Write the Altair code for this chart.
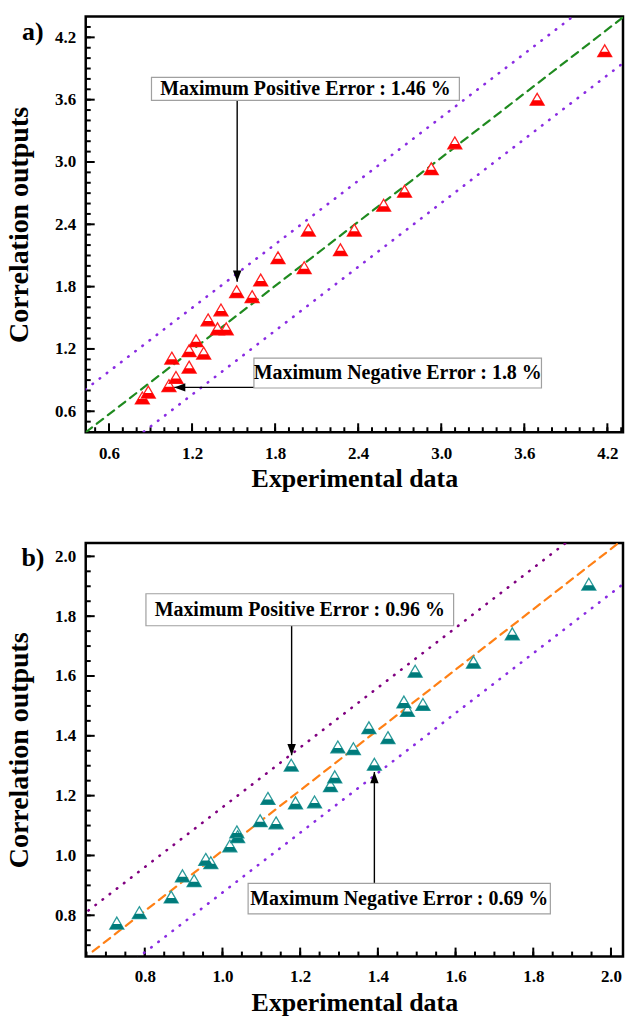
import altair as alt
import pandas as pd

FONT = "Liberation Serif"

# ---------------- Panel a data ----------------
a_exp = [0.841, 0.884, 1.033, 1.054, 1.084, 1.179, 1.179, 1.229, 1.284, 1.316, 1.384, 1.409, 1.447, 1.522,
         1.634, 1.696, 1.821, 2.010, 2.040, 2.272, 2.372, 2.584, 2.735, 2.928, 3.098, 3.693, 4.181]
a_cor = [0.728, 0.785, 0.847, 1.112, 0.926, 1.183, 1.025, 1.279, 1.160, 1.480, 1.394, 1.576, 1.394, 1.752,
         1.704, 1.864, 2.078, 1.982, 2.344, 2.155, 2.344, 2.584, 2.718, 2.935, 3.184, 3.604, 4.071]

# ---------------- Panel b data ----------------
b_exp = [0.728, 0.786, 0.868, 0.897, 0.927, 0.957, 0.970, 1.019, 1.037, 1.039, 1.097, 1.138, 1.117, 1.188,
         1.237, 1.177, 1.278, 1.289, 1.297, 1.337, 1.391, 1.377, 1.426, 1.467, 1.476, 1.516, 1.496, 1.646,
         1.746, 1.943]
b_cor = [0.774, 0.809, 0.861, 0.932, 0.916, 0.987, 0.976, 1.032, 1.079, 1.063, 1.116, 1.109, 1.191, 1.176,
         1.179, 1.302, 1.233, 1.263, 1.363, 1.357, 1.305, 1.427, 1.394, 1.513, 1.485, 1.505, 1.616, 1.646,
         1.741, 1.907]

# Reference / error-band lines (endpoints)
a_diag_x, a_diag_y = [0.432, 4.32], [0.398, 4.40]
a_up_x, a_up_y = [0.43, 4.0], [0.81, 4.45]
a_lo_x, a_lo_y = [0.80, 4.40], [0.35, 4.04]
b_diag_x, b_diag_y = [0.666, 2.02], [0.679, 2.045]
b_up_x, b_up_y = [0.60, 1.90], [0.761, 2.061]
b_lo_x, b_lo_y = [0.78, 2.10], [0.656, 1.976]

# Axis ticks
a_major = [0.6, 1.2, 1.8, 2.4, 3.0, 3.6, 4.2]
a_minor_x = [round(0.5 + 0.1 * i, 1) for i in range(39)]
a_minor_y = [round(0.4 + 0.1 * i, 1) for i in range(41)]
b_major = [0.8, 1.0, 1.2, 1.4, 1.6, 1.8, 2.0]
b_minor_x = [round(0.65 + 0.05 * i, 2) for i in range(28)]
b_minor_y = [round(0.70 + 0.05 * i, 2) for i in range(28)]

# Annotations: box edges, text, arrow
a_box_x1 = [0.907, 1.647]
a_box_x2 = [3.131, 3.724]
a_box_y1 = [3.594, 0.824]
a_box_y2 = [3.815, 1.112]
a_text = ["Maximum Positive Error : 1.46 %", "Maximum Negative Error : 1.8 %"]
a_arr_x1 = [1.526, 1.647]
a_arr_y1 = [3.594, 0.83]
a_arr_x2 = [1.526, 1.071]
a_arr_y2 = [1.848, 0.83]
a_arr_ang = [0, 90]

b_box_x1 = [0.803, 1.066]
b_box_x2 = [1.595, 1.844]
b_box_y1 = [1.768, 0.805]
b_box_y2 = [1.875, 0.907]
b_text = ["Maximum Positive Error : 0.96 %", "Maximum Negative Error : 0.69 %"]
b_arr_x1 = [1.178, 1.391]
b_arr_y1 = [1.768, 0.907]
b_arr_x2 = [1.178, 1.391]
b_arr_y2 = [1.335, 1.279]
b_arr_ang = [0, 180]

TRI = "M0,-0.85L1,0.85L-1,0.85Z"
TRI_BOTTOM = "M-0.59,0.15L0.59,0.15L1,0.85L-1,0.85Z"
ARROW = "M0,0L-0.38,-1L0.38,-1Z"


def panel(label, exp, cor, xdom, ydom, W, H, major, minor_x, minor_y,
          lines, boxes, texts, arrows, stroke_col, fill_col,
          lab_pad_x, title_pad_x):
    xs = alt.Scale(domain=xdom, nice=False, zero=False)
    ys = alt.Scale(domain=ydom, nice=False, zero=False)

    pts = pd.DataFrame({"exp": exp, "cor": cor})
    base = alt.Chart(pts).encode(
        x=alt.X("exp:Q", scale=xs,
                axis=alt.Axis(values=major, format=".1f", ticks=False, tickSize=0, domain=False, grid=False,
                              labelFont=FONT, labelFontSize=17, labelFontWeight="bold", labelColor="black",
                              labelPadding=lab_pad_x, labelFlush=False,
                              title="Experimental data", titleFont=FONT, titleFontSize=26,
                              titleFontWeight="bold", titleColor="black", titlePadding=title_pad_x)),
        y=alt.Y("cor:Q", scale=ys,
                axis=alt.Axis(values=major, format=".1f", ticks=False, tickSize=0, domain=False, grid=False,
                              labelFont=FONT, labelFontSize=17, labelFontWeight="bold", labelColor="black",
                              labelPadding=10, labelFlush=False,
                              title="Correlation outputs", titleFont=FONT, titleFontSize=28,
                              titleFontWeight="bold", titleColor="black", titlePadding=21)),
    )
    tri = base.mark_point(shape=TRI, size=196, filled=True, fill="white", stroke=stroke_col,
                          strokeWidth=1.3, opacity=1)
    tri_b = base.mark_point(shape=TRI_BOTTOM, size=196, filled=True, fill=fill_col, strokeWidth=0,
                            opacity=1)

    layers = []

    def xticks(vals, length):
        df = pd.DataFrame({"t": [v for v in vals if xdom[0] < v < xdom[1]]})
        return alt.Chart(df).mark_rule(color="black", strokeWidth=2).encode(
            x=alt.X("t:Q", scale=xs), y=alt.value(H), y2=alt.value(H - length))

    def yticks(vals, length):
        df = pd.DataFrame({"t": [v for v in vals if ydom[0] < v < ydom[1]]})
        return alt.Chart(df).mark_rule(color="black", strokeWidth=2).encode(
            y=alt.Y("t:Q", scale=ys), x=alt.value(0), x2=alt.value(length))

    layers += [xticks(minor_x, 5), xticks(major, 9), yticks(minor_y, 5), yticks(major, 9)]

    for lx, ly, col, dash, sw in lines:
        df = pd.DataFrame({"lx": lx, "ly": ly})
        layers.append(alt.Chart(df).mark_line(color=col, strokeDash=dash, strokeWidth=sw, clip=True,
                                              strokeCap="round").encode(
            x=alt.X("lx:Q", scale=xs), y=alt.Y("ly:Q", scale=ys)))

    bx1, bx2, by1, by2 = boxes
    bdf = pd.DataFrame({"x1": bx1, "x2": bx2, "y1": by1, "y2": by2, "txt": texts,
                        "cx": [(p + q) / 2 for p, q in zip(bx1, bx2)],
                        "cy": [(p + q) / 2 for p, q in zip(by1, by2)]})
    ax1, ay1, ax2, ay2, ang = arrows
    adf = pd.DataFrame({"x1": ax1, "y1": ay1, "x2": ax2, "y2": ay2, "ang": ang})

    arrow_line = alt.Chart(adf).mark_rule(color="black", strokeWidth=1.4).encode(
        x=alt.X("x1:Q", scale=xs), y=alt.Y("y1:Q", scale=ys), x2="x2:Q", y2="y2:Q")
    arrow_head = alt.Chart(adf).mark_point(shape=ARROW, size=500, filled=True, fill="black",
                                           strokeWidth=0, opacity=1).encode(
        x=alt.X("x2:Q", scale=xs), y=alt.Y("y2:Q", scale=ys),
        angle=alt.Angle("ang:Q", scale=None))
    box = alt.Chart(bdf).mark_rect(fill="white", stroke="#a0a0a0", strokeWidth=1.2).encode(
        x=alt.X("x1:Q", scale=xs), x2="x2:Q", y=alt.Y("y1:Q", scale=ys), y2="y2:Q")
    txt = alt.Chart(bdf).mark_text(font=FONT, fontSize=20, fontWeight="bold", color="black",
                                   align="center", baseline="middle").encode(
        x=alt.X("cx:Q", scale=xs), y=alt.Y("cy:Q", scale=ys), text="txt:N")

    lab = alt.Chart(pd.DataFrame({"l": [label]})).mark_text(
        font=FONT, fontSize=26, fontWeight="bold", color="black", align="center", baseline="middle"
    ).encode(x=alt.value(-53), y=alt.value(15), text="l:N")

    layers += [arrow_line, arrow_head, tri, tri_b, box, txt, lab]
    return alt.layer(base.mark_point(opacity=0), *layers).properties(width=W, height=H)


panel_a = panel(
    "a)", a_exp, a_cor, [0.432, 4.313], [0.398, 4.400], 539, 417,
    a_major, a_minor_x, a_minor_y,
    [(a_up_x, a_up_y, "#8a2be2", [0.5, 8.5], 2.6),
     (a_lo_x, a_lo_y, "#8a2be2", [0.5, 8.5], 2.6),
     (a_diag_x, a_diag_y, "#1f8a1f", [8, 6], 2.2)],
    (a_box_x1, a_box_x2, a_box_y1, a_box_y2), a_text,
    (a_arr_x1, a_arr_y1, a_arr_x2, a_arr_y2, a_arr_ang),
    "#ff2020", "#ff0000", 13, 4)

panel_b = panel(
    "b)", b_exp, b_cor, [0.648, 2.031], [0.662, 2.045], 539, 415,
    b_major, b_minor_x, b_minor_y,
    [(b_up_x, b_up_y, "#800080", [0.5, 8.5], 2.6),
     (b_lo_x, b_lo_y, "#8a2be2", [0.5, 8.5], 2.6),
     (b_diag_x, b_diag_y, "#ff8015", [8, 6], 2.2)],
    (b_box_x1, b_box_x2, b_box_y1, b_box_y2), b_text,
    (b_arr_x1, b_arr_y1, b_arr_x2, b_arr_y2, b_arr_ang),
    "#2a9a9a", "#007b7b", 12, 5)

chart = alt.vconcat(panel_a, panel_b, spacing=111, bounds="flush").configure_view(
    stroke="black", strokeWidth=2.5
).properties(padding={"left": 4, "top": 13, "right": 0, "bottom": 0}, background="white")

chart.save("out.html", embed_options={"renderer": "svg", "actions": False})
